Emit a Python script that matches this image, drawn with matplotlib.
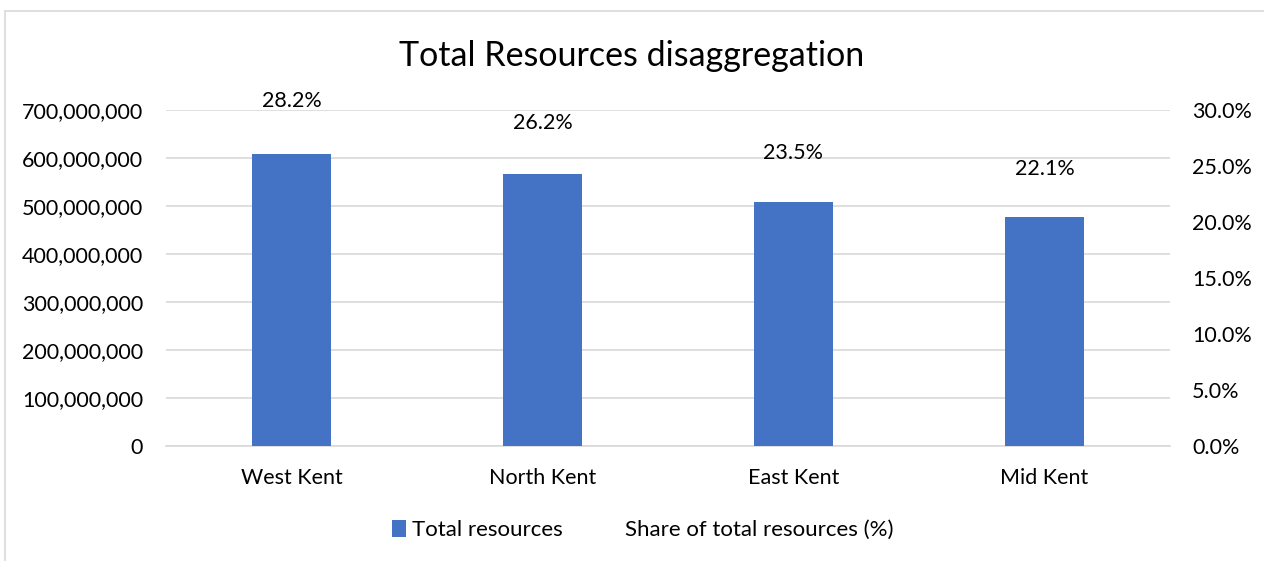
import matplotlib
matplotlib.use("Agg")
import matplotlib.pyplot as plt
from matplotlib.patches import Rectangle, Patch
from matplotlib.lines import Line2D
from matplotlib.ticker import FuncFormatter, MultipleLocator

categories = ["West Kent", "North Kent", "East Kent", "Mid Kent"]
total_resources = [609000000, 567000000, 508000000, 478000000]
share_pct = [28.2, 26.2, 23.5, 22.1]

plt.rcParams['font.family'] = ['Lato', 'DejaVu Sans']

W, H = 1264, 561
fig = plt.figure(figsize=(W / 100, H / 100), dpi=100)

# chart border
fig.patches.append(Rectangle((5 / W, -0.05), (W + 10) / W, 1.05 - 11 / H, transform=fig.transFigure,
                             fill=False, edgecolor="#d9d9d9", linewidth=1.2))

FS = 15.5
ax = fig.add_axes([166 / W, 1 - 446 / H, (1170 - 166) / W, (446 - 110) / H])
x = list(range(len(categories)))
ax.bar(x, total_resources, width=0.315, color="#4472C4", zorder=3)
ax.set_xlim(-0.5, len(categories) - 0.5)
ax.set_ylim(0, 700000000)
ax.yaxis.set_major_locator(MultipleLocator(100000000))
ax.yaxis.set_major_formatter(FuncFormatter(lambda v, p: f"{int(v):,}"))
ax.grid(axis="y", color="#d9d9d9", linewidth=1.2, zorder=0)
for s in ax.spines.values():
    s.set_visible(False)
ax.spines["bottom"].set_visible(True)
ax.spines["bottom"].set_color("#d9d9d9")
ax.spines["bottom"].set_linewidth(1.2)
ax.tick_params(axis="both", length=0, labelsize=FS, colors="#000000")
ax.tick_params(axis="y", pad=16.5)
ax.tick_params(axis="x", pad=16)
ax.set_xticks(x)
ax.set_xticklabels(categories)

ax2 = ax.twinx()
ax2.set_ylim(0, 30)
ax2.yaxis.set_major_locator(MultipleLocator(5))
ax2.yaxis.set_major_formatter(FuncFormatter(lambda v, p: f"{v:.1f}%"))
for s in ax2.spines.values():
    s.set_visible(False)
ax2.tick_params(axis="y", length=0, labelsize=FS, pad=16)
ax2.plot(x, share_pct, linestyle="none", marker="none")
for xi, v in zip(x, share_pct):
    ax2.annotate(f"{v:.1f}%", (xi, v), xytext=(0, 14), textcoords="offset points",
                 ha="center", va="bottom", fontsize=FS)

fig.text(0.5, 1 - 56 / H, "Total Resources disaggregation", ha="center", va="center", fontsize=24.5)

handles = [Patch(facecolor="#4472C4", edgecolor="none"),
           Line2D([], [], linestyle="none")]
fig.legend(handles, ["Total resources", "Share of total resources (%)"],
           loc="center", bbox_to_anchor=(643 / W, 1 - 530 / H), ncol=2, frameon=False,
           fontsize=16, handlelength=0.62, handleheight=0.8, handletextpad=0.27, columnspacing=1.9)

fig.savefig("out.png", dpi=100)
